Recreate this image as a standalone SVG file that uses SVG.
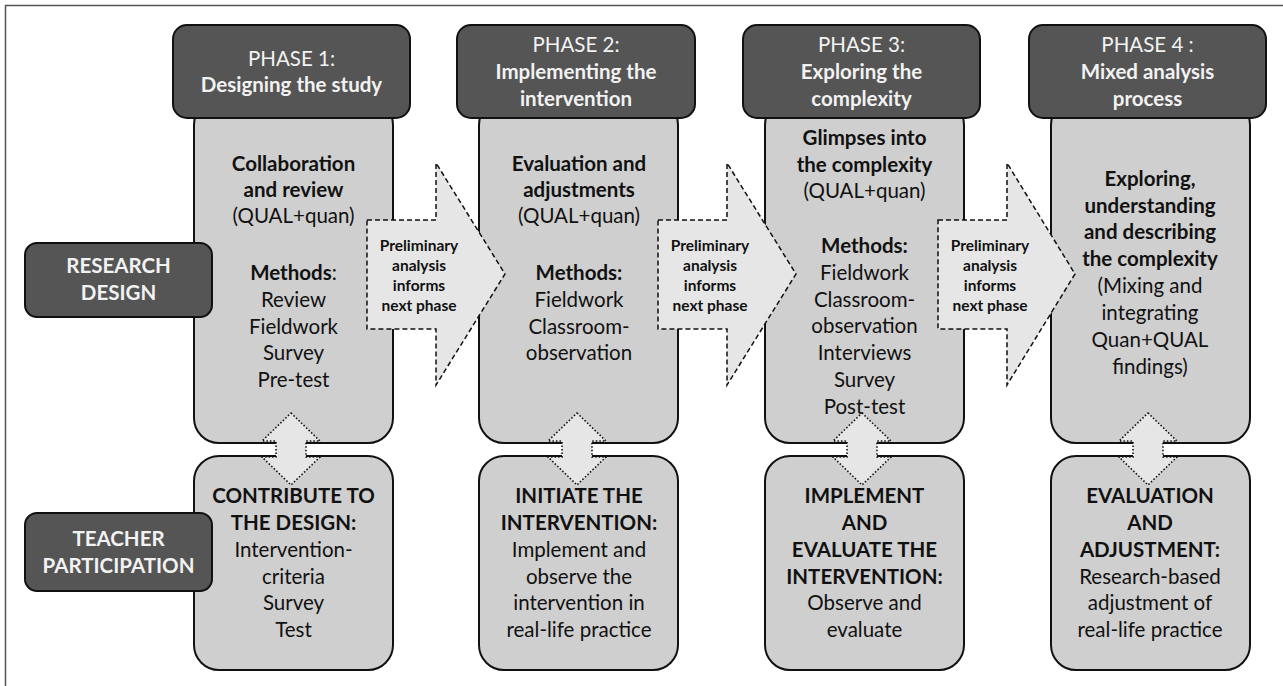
<svg xmlns="http://www.w3.org/2000/svg" width="1283" height="686" viewBox="0 0 1283 686">
<style>
text{font-family:Lato,"Liberation Sans",sans-serif;text-anchor:middle}
.hdr{fill:#555555;stroke:#111;stroke-width:2}
.body{fill:#cfcfcf;stroke:#111;stroke-width:2}
.lbl{fill:#555555;stroke:#111;stroke-width:2}
.ht{fill:#f2f2f2;font-size:20.5px}
.b{font-weight:bold}
.t{fill:#111;font-size:20.5px}
.lt{fill:#f2f2f2;font-size:20.5px;font-weight:bold}
.big{fill:#e6e6e6;stroke:#111;stroke-width:1.5;stroke-dasharray:5 3}
.dbl{fill:#e6e6e6;stroke:#111;stroke-width:1.6;stroke-dasharray:1.5 2}
.at{fill:#111;font-size:15.5px;font-weight:bold}
</style>
<path d="M5.5 686V5.5H1283" fill="none" stroke="#555" stroke-width="1.5"/>

<g id="phase1-body"><rect class="body" x="194" y="100" width="199" height="343" rx="25"/>
<text class="t"><tspan class="b" x="293.5" y="171">Collaboration</tspan><tspan class="b" x="293.5" y="197">and review</tspan><tspan x="293.5" y="223">(QUAL+quan)</tspan><tspan x="293.5" y="280"><tspan class="b">Methods</tspan>:</tspan><tspan x="293.5" y="307">Review</tspan><tspan x="293.5" y="334">Fieldwork</tspan><tspan x="293.5" y="360">Survey</tspan><tspan x="293.5" y="387">Pre-test</tspan></text></g>
<g id="phase2-body"><rect class="body" x="479" y="100" width="199" height="343" rx="25"/>
<text class="t"><tspan class="b" x="579" y="171">Evaluation and</tspan><tspan class="b" x="579" y="197">adjustments</tspan><tspan x="579" y="223">(QUAL+quan)</tspan><tspan class="b" x="579" y="280">Methods:</tspan><tspan x="579" y="307">Fieldwork</tspan><tspan x="579" y="334">Classroom-</tspan><tspan x="579" y="360">observation</tspan></text></g>
<g id="phase3-body"><rect class="body" x="765" y="100" width="199" height="343" rx="25"/>
<text class="t"><tspan class="b" x="864.5" y="145">Glimpses into</tspan><tspan class="b" x="864.5" y="172">the complexity</tspan><tspan x="864.5" y="198">(QUAL+quan)</tspan><tspan class="b" x="864.5" y="253">Methods:</tspan><tspan x="864.5" y="280">Fieldwork</tspan><tspan x="864.5" y="307">Classroom-</tspan><tspan x="864.5" y="333">observation</tspan><tspan x="864.5" y="360">Interviews</tspan><tspan x="864.5" y="387">Survey</tspan><tspan x="864.5" y="414">Post-test</tspan></text></g>
<g id="phase4-body"><rect class="body" x="1051" y="100" width="199" height="343" rx="25"/>
<text class="t"><tspan class="b" x="1150" y="186">Exploring,</tspan><tspan class="b" x="1150" y="213">understanding</tspan><tspan class="b" x="1150" y="239">and describing</tspan><tspan class="b" x="1150" y="266">the complexity</tspan><tspan x="1150" y="293">(Mixing and</tspan><tspan x="1150" y="320">integrating</tspan><tspan x="1150" y="347">Quan+QUAL</tspan><tspan x="1150" y="374">findings)</tspan></text></g>

<g id="phase1-teacher"><rect class="body" x="194" y="456" width="199" height="214" rx="25"/>
<text class="t"><tspan class="b" x="293.5" y="503">CONTRIBUTE TO</tspan><tspan class="b" x="293.5" y="530">THE DESIGN:</tspan><tspan x="293.5" y="557">Intervention-</tspan><tspan x="293.5" y="584">criteria</tspan><tspan x="293.5" y="610">Survey</tspan><tspan x="293.5" y="637">Test</tspan></text></g>
<g id="phase2-teacher"><rect class="body" x="479" y="456" width="199" height="214" rx="25"/>
<text class="t"><tspan class="b" x="579" y="503">INITIATE THE</tspan><tspan class="b" x="579" y="530">INTERVENTION:</tspan><tspan x="579" y="557">Implement and</tspan><tspan x="579" y="584">observe the</tspan><tspan x="579" y="610">intervention in</tspan><tspan x="579" y="637">real-life practice</tspan></text></g>
<g id="phase3-teacher"><rect class="body" x="765" y="456" width="199" height="214" rx="25"/>
<text class="t"><tspan class="b" x="864.5" y="503">IMPLEMENT</tspan><tspan class="b" x="864.5" y="530">AND</tspan><tspan class="b" x="864.5" y="557">EVALUATE THE</tspan><tspan class="b" x="864.5" y="584">INTERVENTION:</tspan><tspan x="864.5" y="610">Observe and</tspan><tspan x="864.5" y="637">evaluate</tspan></text></g>
<g id="phase4-teacher"><rect class="body" x="1051" y="456" width="199" height="214" rx="25"/>
<text class="t"><tspan class="b" x="1150" y="503">EVALUATION</tspan><tspan class="b" x="1150" y="530">AND</tspan><tspan class="b" x="1150" y="557">ADJUSTMENT:</tspan><tspan x="1150" y="584">Research-based</tspan><tspan x="1150" y="610">adjustment of</tspan><tspan x="1150" y="637">real-life practice</tspan></text></g>

<g id="phase1-header"><rect class="hdr" x="173" y="25" width="237" height="93" rx="14"/>
<text class="ht"><tspan x="291.5" y="66">PHASE 1:</tspan><tspan class="b" x="291.5" y="92">Designing the study</tspan></text></g>
<g id="phase2-header"><rect class="hdr" x="457" y="25" width="238" height="93" rx="14"/>
<text class="ht"><tspan x="576" y="52">PHASE 2:</tspan><tspan class="b" x="576" y="79">Implementing the</tspan><tspan class="b" x="576" y="106">intervention</tspan></text></g>
<g id="phase3-header"><rect class="hdr" x="743" y="25" width="237" height="93" rx="14"/>
<text class="ht"><tspan x="861.5" y="52">PHASE 3:</tspan><tspan class="b" x="861.5" y="79">Exploring the</tspan><tspan class="b" x="861.5" y="106">complexity</tspan></text></g>
<g id="phase4-header"><rect class="hdr" x="1029" y="25" width="237" height="93" rx="14"/>
<text class="ht"><tspan x="1147.5" y="52">PHASE 4 :</tspan><tspan class="b" x="1147.5" y="79">Mixed analysis</tspan><tspan class="b" x="1147.5" y="106">process</tspan></text></g>

<g id="research-design"><rect class="lbl" x="25" y="243" width="187" height="74" rx="12"/>
<text class="lt"><tspan x="118.5" y="273">RESEARCH</tspan><tspan x="118.5" y="300">DESIGN</tspan></text></g>
<g id="teacher-participation"><rect class="lbl" x="25" y="513" width="187" height="78" rx="12"/>
<text class="lt"><tspan x="118.5" y="546">TEACHER</tspan><tspan x="118.5" y="573">PARTICIPATION</tspan></text></g>

<g id="connectors">
<g id="arrow-1-2"><path class="big" d="M367 220H436V163L505 274L436 385V329H367Z"/>
<text class="at"><tspan x="419" y="251">Preliminary</tspan><tspan x="419" y="271">analysis</tspan><tspan x="419" y="291">informs</tspan><tspan x="419" y="311">next phase</tspan></text></g>
<g id="arrow-2-3"><path class="big" d="M658 220H727V163L796 274L727 385V329H658Z"/>
<text class="at"><tspan x="710" y="251">Preliminary</tspan><tspan x="710" y="271">analysis</tspan><tspan x="710" y="291">informs</tspan><tspan x="710" y="311">next phase</tspan></text></g>
<g id="arrow-3-4"><path class="big" d="M938 220H1007V163L1075 274L1007 385V329H938Z"/>
<text class="at"><tspan x="990" y="251">Preliminary</tspan><tspan x="990" y="271">analysis</tspan><tspan x="990" y="291">informs</tspan><tspan x="990" y="311">next phase</tspan></text></g>
<path id="dbl-1" class="dbl" d="M291 413L320 441H306V457H320L291 485L262 457H276V441H262Z"/>
<path id="dbl-2" class="dbl" d="M577 413L606 441H592V457H606L577 485L548 457H562V441H548Z"/>
<path id="dbl-3" class="dbl" d="M862 413L891 441H877V457H891L862 485L833 457H847V441H833Z"/>
<path id="dbl-4" class="dbl" d="M1148 413L1177 441H1163V457H1177L1148 485L1119 457H1133V441H1119Z"/>
</g>
</svg>
